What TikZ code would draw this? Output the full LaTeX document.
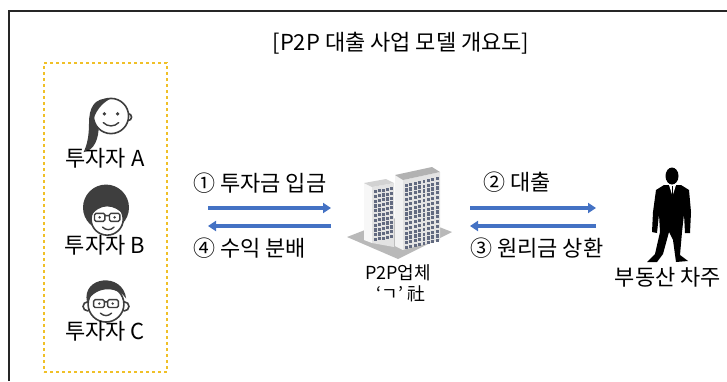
\documentclass[tikz,border=0pt]{standalone}
\usepackage{fontspec}
\setmainfont{Noto Sans CJK KR}
\usepackage{tikz}
\usetikzlibrary{arrows.meta,positioning,calc}
\definecolor{flowblue}{RGB}{68,114,196}
\definecolor{boxgold}{RGB}{240,192,40}
\definecolor{hairgray}{RGB}{62,62,62}
\definecolor{winblue}{RGB}{98,106,128}

\begin{document}
\begin{tikzpicture}[x=1pt,y=-1pt,
  lbl/.style={font=\fontsize{22}{24}\selectfont,inner sep=0pt},
  small/.style={font=\fontsize{18}{20}\selectfont,inner sep=0pt},
  flow/.style={-{Triangle[length=8pt,width=10pt]},flowblue,line width=4pt},
  face/.style={draw=hairgray,line width=1.6pt,fill=white},
  hair/.style={fill=hairgray,draw=none},
  feat/.style={draw=hairgray,line width=1.4pt,line cap=round,rounded corners=1.5pt}]
  \useasboundingbox (0,0) rectangle (727,381);
  % frame: only the top and left edges are on the page
  \draw[line width=2pt,black!85] (9,381) -- (9,11) -- (727,11);
  \node[lbl] (title) at (401,43) {[P2P 대출 사업 모델 개요도]};

  % investors
  \node[draw=boxgold,dashed,line width=1.6pt,minimum width=123pt,
        minimum height=309pt,inner sep=0pt] (inv) at (105.5,217.5) {};
  % investor A (ponytail)
  \begin{scope}[shift={(111,116)},scale=1.1]
    \fill[hair] (0,-16) .. controls (-16,-17) and (-20,-7) .. (-20,7)
      .. controls (-20,19) and (-22,27) .. (-25,33)
      .. controls (-15,31) and (-11,21) .. (-11,7) -- cycle;
    \draw[face] (15.5,1) circle (3.2);
    \draw[face] (0,0) circle (16);
    \fill[hair] (0,-16) .. controls (-12,-16) and (-16,-7) .. (-16,3)
      .. controls (-13,-7) and (-6,-13) .. (0,-16) -- cycle;
    \fill[hairgray] (-6,-2) circle (1.7) (6,-2) circle (1.7);
    \draw[feat] (-7,6) .. controls (-3,10) and (3,10) .. (7,6);
  \end{scope}
  \node[lbl] (invA) at (105,158) {투자자 A};
  % investor B (round hair, glasses)
  \begin{scope}[shift={(106,211)},scale=1.15]
    \fill[hair] (0,-3) circle (20);
    \draw[face] (1,7) circle (14);
    \fill[hair] (-14,6) .. controls (-14,-12) and (12,-16) .. (16,4)
      .. controls (8,-6) and (-6,-8) .. (-14,6) -- cycle;
    \draw[feat] (-10,2) rectangle (-1,9) (3,2) rectangle (12,9)
      (-1,4) -- (3,4);
    \fill[hairgray] (-5.5,5.5) circle (1.2) (7.5,5.5) circle (1.2);
    \draw[feat] (-3,14) .. controls (0,17) and (4,17) .. (7,14);
  \end{scope}
  \node[lbl] (invB) at (105,245) {투자자 B};
  % investor C (short hair, glasses)
  \begin{scope}[shift={(106,303)},scale=1.12]
    \draw[face] (-16.5,3) circle (4) (16.5,3) circle (4);
    \draw[face] (0,1) circle (16);
    \fill[hair] (-17,-1) .. controls (-22,-24) and (15,-28) .. (18,-4)
      .. controls (12,-14) and (-8,-17) .. (-17,-1) -- cycle;
    \draw[feat] (-11,-3) rectangle (-1.5,4) (1.5,-3) rectangle (11,4)
      (-1.5,-1) -- (1.5,-1);
    \fill[hairgray] (-6,0.5) circle (1.2) (6,0.5) circle (1.2);
    \draw[feat] (-5,9) .. controls (-2,12) and (2,12) .. (5,9);
  \end{scope}
  \node[lbl] (invC) at (105,331) {투자자 C};

  % P2P firm: two towers on a base
  \fill[gray!55] (347,237) -- (398,259) -- (452,232) -- (406,214) -- cycle;
  \fill[gray!10] (395,175) -- (403,180) -- (403,250) -- (395,246) -- cycle;
  \fill[gray!22] (403,180) -- (440,172) -- (440,240) -- (403,250) -- cycle;
  \fill[gray!60] (395,175) -- (432,167) -- (440,172) -- (403,180) -- cycle;
  \foreach \i in {0,...,7}
    \foreach \j in {0,...,13}
      \fill[winblue] ({405+\i*4.4},{183.5+\j*4.8-\i*0.95}) rectangle +(2.8,3.2);
  \fill[gray!6] (364,183) -- (372,187) -- (372,243) -- (364,240) -- cycle;
  \fill[gray!22] (372,187) -- (394,183) -- (394,247) -- (372,243) -- cycle;
  \fill[gray!35] (364,183) -- (386,179) -- (394,183) -- (372,187) -- cycle;
  \foreach \i in {0,...,4}
    \foreach \j in {0,...,10}
      \fill[winblue] ({374+\i*4.1},{190+\j*4.8-\i*0.75}) rectangle +(2.6,3.2);
  \node[small] (firm) at (398,273) {P2P업체};
  \node[small] (firmname) at (401,294) {‘ㄱ’ 社};

  % borrower silhouette
  \fill[black] (672,176) ellipse (6.5 and 8.5);
  \fill[black] (664,185) -- (681,185) -- (689,190) -- (691,212) -- (690,233)
    -- (685,233) -- (684,214) -- (682,232) -- (680,255) -- (688,261)
    -- (676,262) -- (673,240) -- (669,232) -- (663,254) -- (657,262)
    -- (647,262) -- (655,254) -- (660,232) -- (659,214) -- (657,233)
    -- (652,232) -- (653,212) -- (656,190) -- cycle;
  \fill[white] (669,185) -- (676,185) -- (672.5,196) -- cycle;
  \draw[black,line width=1.4pt] (672.5,186) -- (672.5,196);
  \node[lbl] (borrower) at (668,277) {부동산 차주};

  % money flows
  \coordinate (invR) at (208,208);
  \coordinate (firmL) at (331,208);
  \coordinate (invR2) at (208,226);
  \coordinate (firmL2) at (331,226);
  \coordinate (firmR) at (470,208);
  \coordinate (manL) at (596,208);
  \coordinate (firmR2) at (470,226);
  \coordinate (manL2) at (596,226);
  \draw[flow] (invR) -- (firmL);
  \draw[flow] (firmL2) -- (invR2);
  \draw[flow] (firmR) -- (manL);
  \draw[flow] (manL2) -- (firmR2);
  \node[lbl,anchor=west] (step1) at (193,183) {① 투자금 입금};
  \node[lbl,anchor=west] (step4) at (193,248) {④ 수익 분배};
  \node[lbl,anchor=west] (step2) at (483,182) {② 대출};
  \node[lbl,anchor=west] (step3) at (470,248) {③ 원리금 상환};
\end{tikzpicture}
\end{document}
